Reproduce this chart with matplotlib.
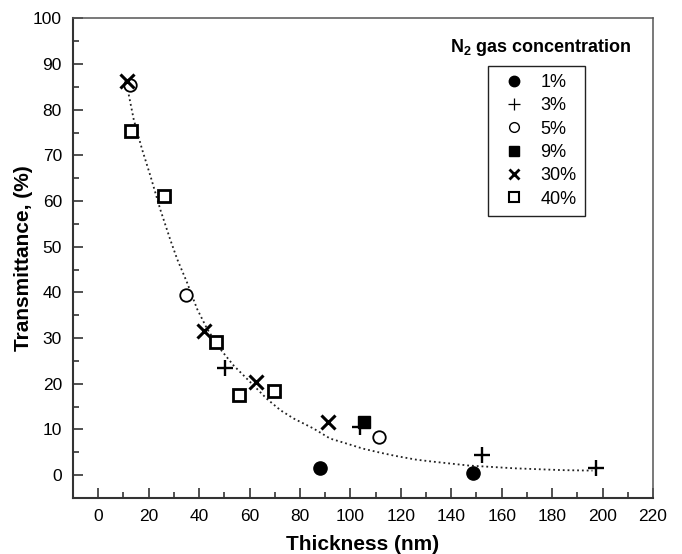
import matplotlib
matplotlib.use("Agg")
import matplotlib.pyplot as plt
from matplotlib.lines import Line2D
from matplotlib.ticker import MultipleLocator

plt.rcParams["font.family"] = ["Liberation Sans", "DejaVu Sans"]
plt.rcParams["mathtext.fontset"] = "custom"
plt.rcParams["mathtext.rm"] = "Liberation Sans"
plt.rcParams["mathtext.bf"] = "Liberation Sans:bold"

# data (thickness nm, transmittance %)
c1_x, c1_y = [88.0, 148.8], [1.6, 0.4]
c3_x, c3_y = [50.4, 103.9, 152.1, 197.2], [23.5, 10.6, 4.5, 1.5]
c5_x, c5_y = [12.7, 34.8, 111.4], [85.3, 39.4, 8.4]
c9_x, c9_y = [105.4], [11.7]
c30_x, c30_y = [11.5, 42.1, 62.6, 91.1], [86.2, 31.5, 20.4, 11.6]
c40_x, c40_y = [13.1, 26.0, 46.9, 55.7, 69.9], [75.3, 61.2, 29.2, 17.6, 18.4]

fit_x = [12.1, 14.1, 17.4, 20.7, 24.7, 28.6, 31.3, 35.2, 39.2, 43.2, 48.4, 53.7,
         57.7, 66.9, 72.3, 77.5, 85.4, 92.0, 98.6, 105.0, 112.0, 118.0, 126.0,
         132.0, 147.0, 165.0, 184.0, 196.0]
fit_y = [83.3, 77.8, 71.3, 65.5, 58.0, 51.5, 47.3, 42.2, 36.4, 32.0, 27.6, 24.0,
         21.8, 16.7, 14.2, 12.4, 10.2, 8.0, 6.9, 5.8, 4.9, 4.2, 3.4,
         3.0, 2.1, 1.5, 1.1, 1.0]

labels = ["1%", "3%", "5%", "9%", "30%", "40%"]

fig = plt.figure(figsize=(6.82, 5.54), dpi=100)
ax = fig.add_axes([73/682, 1 - 498/554, 580/682, 479.7/554])

ax.plot(fit_x, fit_y, ls=":", color="#222222", lw=1.3, zorder=1)

ax.plot(c1_x, c1_y, "o", color="k", ms=9.5, zorder=3)
ax.plot(c3_x, c3_y, "+", color="k", ms=12, mew=1.7, zorder=3)
ax.plot(c5_x, c5_y, "o", mfc="white", mec="k", ms=9, mew=1.3, zorder=3)
ax.plot(c9_x, c9_y, "s", color="k", ms=8, zorder=3)
ax.plot(c30_x, c30_y, "x", color="k", ms=10, mew=2.2, zorder=3)
ax.plot(c40_x, c40_y, "s", mfc="white", mec="k", ms=8.5, mew=2, zorder=3)

ax.set_xlim(-10, 220)
ax.set_ylim(-5, 100)
ax.xaxis.set_major_locator(MultipleLocator(20))
ax.xaxis.set_minor_locator(MultipleLocator(10))
ax.yaxis.set_major_locator(MultipleLocator(10))
ax.yaxis.set_minor_locator(MultipleLocator(5))
ax.tick_params(which="both", direction="in", top=False, right=False,
               width=1.2, color="#333333", labelsize=12.5, pad=8)
ax.tick_params(which="major", length=7)
ax.tick_params(which="minor", length=4)
for s in ["left", "bottom"]:
    ax.spines[s].set_linewidth(1.5)
    ax.spines[s].set_color("#333333")
for s in ["top", "right"]:
    ax.spines[s].set_linewidth(1.1)
    ax.spines[s].set_color("#555555")

ax.set_xlabel("Thickness (nm)", fontsize=15, fontweight="bold", labelpad=8)
ax.set_ylabel("Transmittance, (%)", fontsize=15, fontweight="bold", labelpad=0)

handles = [
    Line2D([], [], ls="", marker="o", color="k", ms=7.5),
    Line2D([], [], ls="", marker="+", color="k", ms=9, mew=0.9),
    Line2D([], [], ls="", marker="o", mfc="white", mec="k", ms=7, mew=1),
    Line2D([], [], ls="", marker="s", color="k", ms=6.5),
    Line2D([], [], ls="", marker="x", color="k", ms=7.5, mew=2),
    Line2D([], [], ls="", marker="s", mfc="white", mec="k", ms=6.5, mew=1.5),
]
leg = ax.legend(handles, labels, loc="upper left", bbox_to_anchor=(0.7155, 0.9006),
                borderaxespad=0, fontsize=13, frameon=True, fancybox=False,
                edgecolor="#222222", framealpha=1, borderpad=0.45,
                handlelength=2, handletextpad=0.45, labelspacing=0.35)
leg.get_frame().set_linewidth(1.0)

ax.text(0.806, 0.940, r"$\mathbf{N_2}$ gas concentration", transform=ax.transAxes,
        ha="center", va="center", fontsize=13, fontweight="bold")

fig.savefig("out.png", dpi=100)
